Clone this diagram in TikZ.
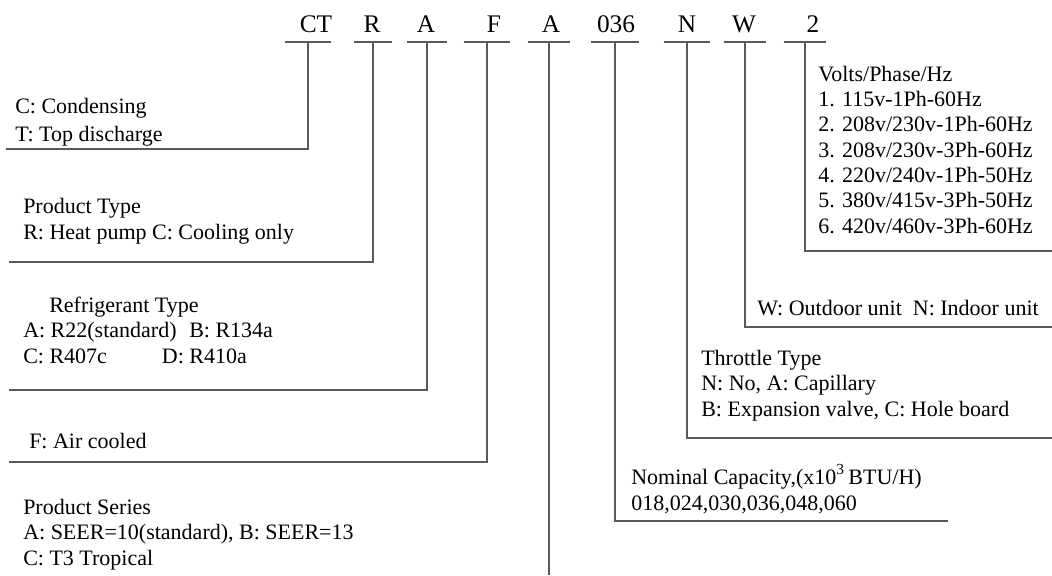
\documentclass[tikz,border=0pt]{standalone}
\usepackage{fontspec}
\setmainfont{Liberation Serif}
\definecolor{leader}{RGB}{90,90,90}
\tikzstyle{code}=[anchor=base, inner sep=0pt, font=\fontsize{19}{22}\selectfont]
\tikzstyle{bar}=[inner sep=0pt, minimum height=0pt]
\tikzstyle{desc}=[anchor=base west, inner sep=0pt, align=left, font=\fontsize{16.5}{19}\selectfont]
\tikzstyle{lead}=[line width=0.9pt, color=leader]

\begin{document}
\begin{tikzpicture}[x=0.75pt,y=-0.75pt]
  \useasboundingbox (0,0) rectangle (1052,575);
  %% Model code
  \draw (316,32) node[code] (K1) {CT};
  \draw (372,32) node[code] (K2) {R};
  \draw (426,32) node[code] (K3) {A};
  \draw (494,32) node[code] (K4) {F};
  \draw (551,32) node[code] (K5) {A};
  \draw (616,32) node[code] (K6) {036};
  \draw (687,32) node[code] (K7) {N};
  \draw (744,32) node[code] (K8) {W};
  \draw (813,32) node[code] (K9) {2};

  \draw (308,42) node[bar,minimum width=34.5pt] (U1) {};
  \draw (373,42) node[bar,minimum width=27.75pt] (U2) {};
  \draw (427,42) node[bar,minimum width=29.25pt] (U3) {};
  \draw (487,42) node[bar,minimum width=34.5pt] (U4) {};
  \draw (549,42) node[bar,minimum width=31.5pt] (U5) {};
  \draw (615,42) node[bar,minimum width=35.25pt] (U6) {};
  \draw (687,42) node[bar,minimum width=34.5pt] (U7) {};
  \draw (745,42) node[bar,minimum width=31.5pt] (U8) {};
  \draw (805,42) node[bar,minimum width=31.5pt] (U9) {};

  %% Line ends
  \coordinate (E1) at (6,149);
  \coordinate (E2) at (9,262);
  \coordinate (E3) at (9,390);
  \coordinate (E4) at (9,462);
  \coordinate (E5) at (549,575);
  \coordinate (E6) at (948,521);
  \coordinate (E7) at (1052,438);
  \coordinate (E8) at (1052,327);
  \coordinate (E9) at (1052,251);

  %% Descriptions (placed at the baseline of their last line)
  \draw (15,141) node[desc] (T1) {C: Condensing\\[2pt]T: Top discharge};
  \draw (23,239) node[desc] (T2) {Product Type\\R: Heat pump C: Cooling only};
  \draw (23,363) node[desc] (T3) {\hspace{19.5pt}Refrigerant Type\\
    \makebox[124.5pt][l]{A: R22(standard)}B: R134a\\
    \makebox[104pt][l]{C: R407c}D: R410a};
  \draw (29,448) node[desc] (T4) {F: Air cooled};
  \draw (23,565) node[desc] (T5) {Product Series\\A: SEER=10(standard), B: SEER=13\\C: T3 Tropical};
  \draw (631,510) node[desc] (T6) {Nominal Capacity,(x10\raisebox{1.5pt}{\textsuperscript{3}}\,BTU/H)\\018,024,030,036,048,060};
  \draw (701,416) node[desc] (T7) {Throttle Type\\N: No, A: Capillary\\B: Expansion valve, C: Hole board};
  \draw (757,315) node[desc] (T8) {W: Outdoor unit\ \ N: Indoor unit};
  \draw (818,233) node[desc] (T9) {Volts/Phase/Hz\\1. 115v-1Ph-60Hz\\2. 208v/230v-1Ph-60Hz\\3. 208v/230v-3Ph-60Hz\\4. 220v/240v-1Ph-50Hz\\5. 380v/415v-3Ph-50Hz\\6. 420v/460v-3Ph-60Hz};

  %% Leaders
  \draw[lead] (U1.west) -- (U1.east);
  \draw[lead] (U2.west) -- (U2.east);
  \draw[lead] (U3.west) -- (U3.east);
  \draw[lead] (U4.west) -- (U4.east);
  \draw[lead] (U5.west) -- (U5.east);
  \draw[lead] (U6.west) -- (U6.east);
  \draw[lead] (U7.west) -- (U7.east);
  \draw[lead] (U8.west) -- (U8.east);
  \draw[lead] (U9.west) -- (U9.east);

  \draw[lead] (U1.center) |- (E1);
  \draw[lead] (U2.center) |- (E2);
  \draw[lead] (U3.center) |- (E3);
  \draw[lead] (U4.center) |- (E4);
  \draw[lead] (U5.center) -- (E5);
  \draw[lead] (U6.center) |- (E6);
  \draw[lead] (U7.center) |- (E7);
  \draw[lead] (U8.center) |- (E8);
  \draw[lead] (U9.center) |- (E9);
\end{tikzpicture}
\end{document}
